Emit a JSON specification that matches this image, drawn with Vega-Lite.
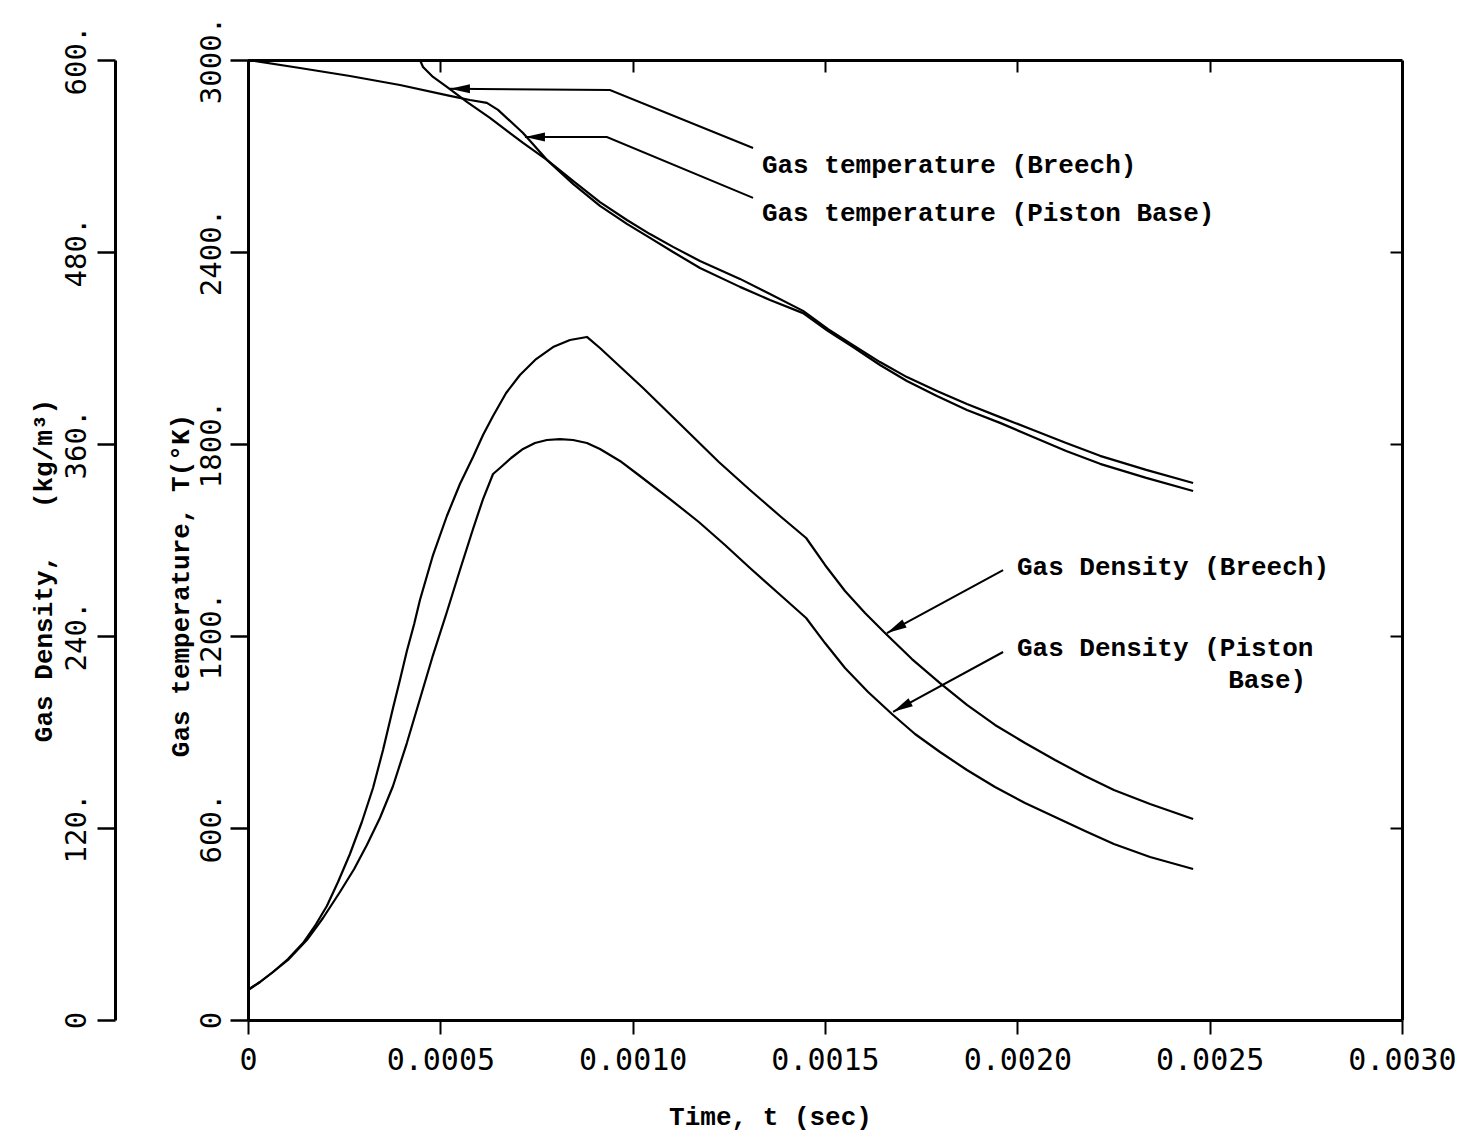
{
  "$schema": "https://vega.github.io/schema/vega-lite/v6.json",
  "width": 1154,
  "height": 960,
  "autosize": "none",
  "padding": {"left": 248, "top": 60, "right": 58, "bottom": 112},
  "background": "white",
  "config": {"view": {"stroke": null}},
  "datasets": {
    "temp": [
      {"series": "Breech", "t": 0, "T": 3000},
      {"series": "Breech", "t": 0.000447, "T": 3000},
      {"series": "Breech", "t": 0.000455, "T": 2978},
      {"series": "Breech", "t": 0.000481, "T": 2947},
      {"series": "Breech", "t": 0.000517, "T": 2916},
      {"series": "Breech", "t": 0.000569, "T": 2869},
      {"series": "Breech", "t": 0.000629, "T": 2819},
      {"series": "Breech", "t": 0.000715, "T": 2741},
      {"series": "Breech", "t": 0.000777, "T": 2688},
      {"series": "Breech", "t": 0.000845, "T": 2622},
      {"series": "Breech", "t": 0.000915, "T": 2556},
      {"series": "Breech", "t": 0.000985, "T": 2500},
      {"series": "Breech", "t": 0.001045, "T": 2456},
      {"series": "Breech", "t": 0.001105, "T": 2416},
      {"series": "Breech", "t": 0.001175, "T": 2372},
      {"series": "Breech", "t": 0.001279, "T": 2316},
      {"series": "Breech", "t": 0.001357, "T": 2269},
      {"series": "Breech", "t": 0.001443, "T": 2216},
      {"series": "Breech", "t": 0.001508, "T": 2159},
      {"series": "Breech", "t": 0.001573, "T": 2109},
      {"series": "Breech", "t": 0.001643, "T": 2056},
      {"series": "Breech", "t": 0.001713, "T": 2009},
      {"series": "Breech", "t": 0.001791, "T": 1966},
      {"series": "Breech", "t": 0.001869, "T": 1925},
      {"series": "Breech", "t": 0.001955, "T": 1884},
      {"series": "Breech", "t": 0.002041, "T": 1844},
      {"series": "Breech", "t": 0.002127, "T": 1803},
      {"series": "Breech", "t": 0.002215, "T": 1763},
      {"series": "Breech", "t": 0.002335, "T": 1719},
      {"series": "Breech", "t": 0.002457, "T": 1678},
      {"series": "Piston Base", "t": 0, "T": 3000},
      {"series": "Piston Base", "t": 0.000135, "T": 2975},
      {"series": "Piston Base", "t": 0.000265, "T": 2950},
      {"series": "Piston Base", "t": 0.000395, "T": 2922},
      {"series": "Piston Base", "t": 0.000525, "T": 2888},
      {"series": "Piston Base", "t": 0.000577, "T": 2875},
      {"series": "Piston Base", "t": 0.000621, "T": 2866},
      {"series": "Piston Base", "t": 0.00065, "T": 2844},
      {"series": "Piston Base", "t": 0.000715, "T": 2772},
      {"series": "Piston Base", "t": 0.000777, "T": 2688},
      {"series": "Piston Base", "t": 0.000845, "T": 2613},
      {"series": "Piston Base", "t": 0.000915, "T": 2544},
      {"series": "Piston Base", "t": 0.000985, "T": 2488},
      {"series": "Piston Base", "t": 0.001045, "T": 2444},
      {"series": "Piston Base", "t": 0.001105, "T": 2400},
      {"series": "Piston Base", "t": 0.001175, "T": 2350},
      {"series": "Piston Base", "t": 0.001279, "T": 2291},
      {"series": "Piston Base", "t": 0.001357, "T": 2250},
      {"series": "Piston Base", "t": 0.001443, "T": 2209},
      {"series": "Piston Base", "t": 0.001508, "T": 2153},
      {"series": "Piston Base", "t": 0.001573, "T": 2103},
      {"series": "Piston Base", "t": 0.001643, "T": 2047},
      {"series": "Piston Base", "t": 0.001713, "T": 1997},
      {"series": "Piston Base", "t": 0.001791, "T": 1950},
      {"series": "Piston Base", "t": 0.001869, "T": 1906},
      {"series": "Piston Base", "t": 0.001955, "T": 1866},
      {"series": "Piston Base", "t": 0.002041, "T": 1822},
      {"series": "Piston Base", "t": 0.002127, "T": 1778},
      {"series": "Piston Base", "t": 0.002215, "T": 1738},
      {"series": "Piston Base", "t": 0.002335, "T": 1694},
      {"series": "Piston Base", "t": 0.002457, "T": 1653}
    ],
    "dens": [
      {"series": "Breech", "t": 0, "rho": 18.75},
      {"series": "Breech", "t": 0.0000312, "rho": 23.75},
      {"series": "Breech", "t": 0.000065, "rho": 30},
      {"series": "Breech", "t": 0.000104, "rho": 38.1},
      {"series": "Breech", "t": 0.000143, "rho": 48.1},
      {"series": "Breech", "t": 0.000174, "rho": 58.75},
      {"series": "Breech", "t": 0.000205, "rho": 71.25},
      {"series": "Breech", "t": 0.000234, "rho": 86.25},
      {"series": "Breech", "t": 0.000265, "rho": 103.75},
      {"series": "Breech", "t": 0.000296, "rho": 123.75},
      {"series": "Breech", "t": 0.000325, "rho": 145},
      {"series": "Breech", "t": 0.000351, "rho": 168.75},
      {"series": "Breech", "t": 0.000377, "rho": 195},
      {"series": "Breech", "t": 0.000395, "rho": 212.5},
      {"series": "Breech", "t": 0.000413, "rho": 230.6},
      {"series": "Breech", "t": 0.000432, "rho": 247.5},
      {"series": "Breech", "t": 0.000447, "rho": 262.5},
      {"series": "Breech", "t": 0.000481, "rho": 290.6},
      {"series": "Breech", "t": 0.000517, "rho": 315},
      {"series": "Breech", "t": 0.000551, "rho": 335},
      {"series": "Breech", "t": 0.000585, "rho": 351.9},
      {"series": "Breech", "t": 0.000611, "rho": 365.6},
      {"series": "Breech", "t": 0.000637, "rho": 377.5},
      {"series": "Breech", "t": 0.000671, "rho": 391.9},
      {"series": "Breech", "t": 0.000707, "rho": 403.1},
      {"series": "Breech", "t": 0.000749, "rho": 413.1},
      {"series": "Breech", "t": 0.000793, "rho": 420.6},
      {"series": "Breech", "t": 0.000837, "rho": 425},
      {"series": "Breech", "t": 0.000881, "rho": 426.9},
      {"series": "Breech", "t": 0.000915, "rho": 420},
      {"series": "Breech", "t": 0.001027, "rho": 395},
      {"series": "Breech", "t": 0.001123, "rho": 372.5},
      {"series": "Breech", "t": 0.001224, "rho": 348.75},
      {"series": "Breech", "t": 0.001305, "rho": 331.25},
      {"series": "Breech", "t": 0.001383, "rho": 315},
      {"series": "Breech", "t": 0.001451, "rho": 301.25},
      {"series": "Breech", "t": 0.0015, "rho": 284.4},
      {"series": "Breech", "t": 0.001552, "rho": 268.1},
      {"series": "Breech", "t": 0.001604, "rho": 254.4},
      {"series": "Breech", "t": 0.001656, "rho": 241.9},
      {"series": "Breech", "t": 0.001726, "rho": 225.6},
      {"series": "Breech", "t": 0.001799, "rho": 210.6},
      {"series": "Breech", "t": 0.001869, "rho": 196.9},
      {"series": "Breech", "t": 0.001942, "rho": 184.4},
      {"series": "Breech", "t": 0.00202, "rho": 173.1},
      {"series": "Breech", "t": 0.002098, "rho": 162.5},
      {"series": "Breech", "t": 0.002176, "rho": 152.5},
      {"series": "Breech", "t": 0.002251, "rho": 143.75},
      {"series": "Breech", "t": 0.002345, "rho": 135},
      {"series": "Breech", "t": 0.002457, "rho": 125.6},
      {"series": "Piston Base", "t": 0, "rho": 18.75},
      {"series": "Piston Base", "t": 0.0000312, "rho": 23.75},
      {"series": "Piston Base", "t": 0.000065, "rho": 30},
      {"series": "Piston Base", "t": 0.000104, "rho": 37.5},
      {"series": "Piston Base", "t": 0.000153, "rho": 50},
      {"series": "Piston Base", "t": 0.000195, "rho": 63.75},
      {"series": "Piston Base", "t": 0.000239, "rho": 80},
      {"series": "Piston Base", "t": 0.000276, "rho": 94.4},
      {"series": "Piston Base", "t": 0.000309, "rho": 109.4},
      {"series": "Piston Base", "t": 0.000343, "rho": 126.25},
      {"series": "Piston Base", "t": 0.000377, "rho": 146.25},
      {"series": "Piston Base", "t": 0.000413, "rho": 173.1},
      {"series": "Piston Base", "t": 0.000447, "rho": 200.6},
      {"series": "Piston Base", "t": 0.000481, "rho": 228.1},
      {"series": "Piston Base", "t": 0.000517, "rho": 255},
      {"series": "Piston Base", "t": 0.000551, "rho": 281.25},
      {"series": "Piston Base", "t": 0.000585, "rho": 306.9},
      {"series": "Piston Base", "t": 0.000611, "rho": 325.6},
      {"series": "Piston Base", "t": 0.000637, "rho": 341.25},
      {"series": "Piston Base", "t": 0.000655, "rho": 345},
      {"series": "Piston Base", "t": 0.000684, "rho": 351.25},
      {"series": "Piston Base", "t": 0.000715, "rho": 356.9},
      {"series": "Piston Base", "t": 0.000746, "rho": 360.6},
      {"series": "Piston Base", "t": 0.000777, "rho": 362.5},
      {"series": "Piston Base", "t": 0.000811, "rho": 363.1},
      {"series": "Piston Base", "t": 0.000845, "rho": 362.5},
      {"series": "Piston Base", "t": 0.000881, "rho": 360.6},
      {"series": "Piston Base", "t": 0.000915, "rho": 356.9},
      {"series": "Piston Base", "t": 0.000967, "rho": 349.4},
      {"series": "Piston Base", "t": 0.001019, "rho": 340},
      {"series": "Piston Base", "t": 0.001097, "rho": 325.6},
      {"series": "Piston Base", "t": 0.001172, "rho": 311.25},
      {"series": "Piston Base", "t": 0.00124, "rho": 296.9},
      {"series": "Piston Base", "t": 0.001305, "rho": 282.5},
      {"series": "Piston Base", "t": 0.001378, "rho": 266.9},
      {"series": "Piston Base", "t": 0.001451, "rho": 251.25},
      {"series": "Piston Base", "t": 0.0015, "rho": 235.6},
      {"series": "Piston Base", "t": 0.001552, "rho": 220},
      {"series": "Piston Base", "t": 0.001612, "rho": 205},
      {"series": "Piston Base", "t": 0.001674, "rho": 191.25},
      {"series": "Piston Base", "t": 0.001734, "rho": 178.75},
      {"series": "Piston Base", "t": 0.001799, "rho": 167.5},
      {"series": "Piston Base", "t": 0.001869, "rho": 156.25},
      {"series": "Piston Base", "t": 0.001942, "rho": 145.6},
      {"series": "Piston Base", "t": 0.00202, "rho": 135.6},
      {"series": "Piston Base", "t": 0.002098, "rho": 126.9},
      {"series": "Piston Base", "t": 0.002176, "rho": 118.1},
      {"series": "Piston Base", "t": 0.002251, "rho": 110},
      {"series": "Piston Base", "t": 0.002345, "rho": 101.9},
      {"series": "Piston Base", "t": 0.002457, "rho": 94.4}
    ],
    "leaders": [
      {"leader": "bt", "k": 1, "t": 0.001313, "T": 2725},
      {"leader": "bt", "k": 2, "t": 0.000941, "T": 2906},
      {"leader": "bt", "k": 3, "t": 0.000525, "T": 2910},
      {"leader": "pt", "k": 1, "t": 0.001313, "T": 2569},
      {"leader": "pt", "k": 2, "t": 0.000933, "T": 2759},
      {"leader": "pt", "k": 3, "t": 0.00072, "T": 2759},
      {"leader": "bd", "k": 1, "t": 0.001963, "T": 1406},
      {"leader": "bd", "k": 2, "t": 0.001661, "T": 1209},
      {"leader": "pd", "k": 1, "t": 0.001963, "T": 1150},
      {"leader": "pd", "k": 2, "t": 0.001677, "T": 963}
    ],
    "heads": [
      {"kind": "h", "t": 0.000525, "T": 2910},
      {"kind": "h", "t": 0.00072, "T": 2759},
      {"kind": "d", "t": 0.001661, "T": 1209},
      {"kind": "d", "t": 0.001677, "T": 963}
    ],
    "notes": [
      {"label": "Gas temperature (Breech)", "t": 0.001336, "T": 2672},
      {"label": "Gas temperature (Piston Base)", "t": 0.001336, "T": 2522},
      {"label": "Gas Density (Breech)", "t": 0.001999, "T": 1416},
      {"label": "Gas Density (Piston", "t": 0.001999, "T": 1162},
      {"label": "Base)", "t": 0.002548, "T": 1062}
    ]
  },
  "resolve": {"scale": {"y": "independent"}, "axis": {"x": "independent", "y": "independent"}},
  "layer": [
    {
      "data": {"name": "temp"},
      "mark": {"type": "line", "color": "black", "strokeWidth": 2.2, "strokeJoin": "round"},
      "encoding": {
        "x": {
          "field": "t", "type": "quantitative",
          "scale": {"domain": [0, 0.003], "nice": false, "zero": false},
          "axis": {
            "orient": "bottom",
            "values": [0, 0.0005, 0.001, 0.0015, 0.002, 0.0025, 0.003],
            "labelExpr": "datum.value == 0 ? '0' : format(datum.value, '.4f')",
            "title": "Time, t (sec)",
            "titleFont": "Liberation Mono", "titleFontSize": 26, "titleFontWeight": "bold", "titleColor": "black",
            "titlePadding": 28, "titleX": 522,
            "labelFont": "DejaVu Sans Mono", "labelFontSize": 30, "labelColor": "black",
            "labelPadding": 11, "labelFlush": false, "labelOverlap": false, "labelBound": false,
            "tickSize": 14, "tickWidth": 2, "tickColor": "black",
            "domainColor": "black", "domainWidth": 3, "grid": false
          }
        },
        "y": {
          "field": "T", "type": "quantitative",
          "scale": {"domain": [0, 3000], "nice": false, "zero": false},
          "axis": {
            "orient": "left",
            "values": [0, 600, 1200, 1800, 2400, 3000],
            "labelExpr": "datum.value == 0 ? '0' : datum.value + '.'",
            "title": "Gas temperature, T(°K)",
            "titleFont": "Liberation Mono", "titleFontSize": 26, "titleFontWeight": "bold", "titleColor": "black",
            "titleAngle": -90, "titleY": 525, "titlePadding": 4,
            "labelFont": "DejaVu Sans Mono", "labelFontSize": 29, "labelColor": "black",
            "labelAngle": -90, "labelAlign": "center", "labelBaseline": "bottom",
            "labelPadding": 4, "labelFlush": false, "labelOverlap": false, "labelBound": false,
            "tickSize": 18, "tickWidth": 2.5, "tickColor": "black",
            "domainColor": "black", "domainWidth": 3, "grid": false
          }
        },
        "detail": {"field": "series", "type": "nominal"}
      }
    },
    {
      "data": {"name": "dens"},
      "mark": {"type": "line", "color": "black", "strokeWidth": 2.2, "strokeJoin": "round"},
      "encoding": {
        "x": {"field": "t", "type": "quantitative", "scale": {"domain": [0, 0.003], "nice": false, "zero": false}, "axis": null},
        "y": {
          "field": "rho", "type": "quantitative",
          "scale": {"domain": [0, 600], "nice": false, "zero": false},
          "axis": {
            "orient": "left", "offset": 133,
            "values": [0, 120, 240, 360, 480, 600],
            "labelExpr": "datum.value == 0 ? '0' : datum.value + '.'",
            "title": "Gas Density,\u00a0\u00a0\u00a0(kg/m³)",
            "titleFont": "Liberation Mono", "titleFontSize": 26, "titleFontWeight": "bold", "titleColor": "black",
            "titleAngle": -90, "titleY": 510, "titlePadding": 6,
            "labelFont": "DejaVu Sans Mono", "labelFontSize": 29, "labelColor": "black",
            "labelAngle": -90, "labelAlign": "center", "labelBaseline": "bottom",
            "labelPadding": 6, "labelFlush": false, "labelOverlap": false, "labelBound": false,
            "tickSize": 18, "tickWidth": 2.5, "tickColor": "black",
            "domainColor": "black", "domainWidth": 3, "grid": false
          }
        },
        "detail": {"field": "series", "type": "nominal"}
      }
    },
    {
      "data": {"name": "leaders"},
      "mark": {"type": "line", "color": "black", "strokeWidth": 2},
      "encoding": {
        "x": {
          "field": "t", "type": "quantitative",
          "scale": {"domain": [0, 0.003], "nice": false, "zero": false},
          "axis": {
            "orient": "top", "values": [0.0005, 0.001, 0.0015, 0.002, 0.0025],
            "labels": false, "title": null, "tickSize": -12, "tickWidth": 2, "tickColor": "black",
            "domainColor": "black", "domainWidth": 3, "grid": false
          }
        },
        "y": {
          "field": "T", "type": "quantitative",
          "scale": {"domain": [0, 3000], "nice": false, "zero": false},
          "axis": {
            "orient": "right", "values": [600, 1200, 1800, 2400],
            "labels": false, "title": null, "tickSize": -12, "tickWidth": 2, "tickColor": "black",
            "domainColor": "black", "domainWidth": 3, "grid": false
          }
        },
        "detail": {"field": "leader", "type": "nominal"},
        "order": {"field": "k", "type": "quantitative"}
      }
    },
    {
      "data": {"name": "heads"},
      "mark": {"type": "point", "shape": "M 0 0 L 2 -0.45 L 2 0.45 Z", "size": 400, "filled": true, "color": "black", "opacity": 1},
      "encoding": {
        "x": {"field": "t", "type": "quantitative", "scale": {"domain": [0, 0.003], "nice": false, "zero": false}, "axis": null},
        "y": {"field": "T", "type": "quantitative", "scale": {"domain": [0, 3000], "nice": false, "zero": false}, "axis": null},
        "angle": {"field": "kind", "type": "nominal", "scale": {"domain": ["h", "d"], "range": [0, 331.5]}, "legend": null}
      }
    },
    {
      "data": {"name": "notes"},
      "mark": {"type": "text", "align": "left", "baseline": "middle", "font": "Liberation Mono", "fontSize": 26, "fontWeight": "bold", "color": "black"},
      "encoding": {
        "x": {"field": "t", "type": "quantitative", "scale": {"domain": [0, 0.003], "nice": false, "zero": false}, "axis": null},
        "y": {"field": "T", "type": "quantitative", "scale": {"domain": [0, 3000], "nice": false, "zero": false}, "axis": null},
        "text": {"field": "label", "type": "nominal"}
      }
    }
  ]
}
